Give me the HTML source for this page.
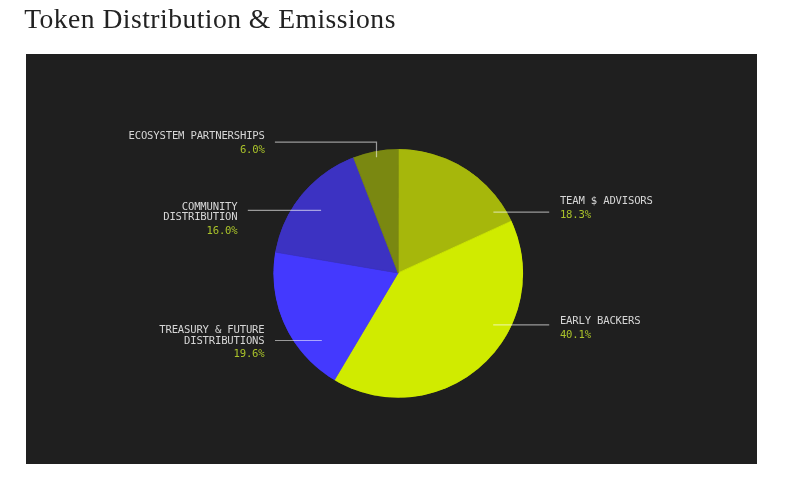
<!DOCTYPE html>
<html>
<head>
<meta charset="utf-8">
<style>
html,body{margin:0;padding:0;background:#fff;width:785px;height:477px;overflow:hidden;}
.title{font-family:"Liberation Serif",serif;font-size:27.6px;letter-spacing:0.47px;fill:#222;}
.chart{position:absolute;left:26px;top:54px;width:731px;height:410px;background:#1f1f1f;}
svg{position:absolute;left:0;top:0;will-change:transform;}
.lb{font-family:"DejaVu Sans Mono",monospace;font-size:10.6px;letter-spacing:-0.19px;fill:#d6d6d6;}
.pc{font-family:"DejaVu Sans Mono",monospace;font-size:10.6px;letter-spacing:-0.19px;fill:#a9c22a;}
</style>
</head>
<body>
<div class="chart"></div>
<svg width="785" height="477" viewBox="0 0 785 477">
  <text class="title" x="24.2" y="27.6">Token Distribution &amp; Emissions</text>
  <clipPath id="pc"><ellipse cx="398.25" cy="273.4" rx="124.9" ry="124.4"/></clipPath>
  <g id="pie" clip-path="url(#pc)">
  <path fill="#a6b70b" stroke="#a6b70b" stroke-width="0.8" d="M398.10 272.90L398.20 149.00A124.9 124.4 0 0 1 511.49 221.02Z"/>
  <path fill="#d0eb00" stroke="#d0eb00" stroke-width="0.8" d="M398.10 272.90L511.49 221.02A124.9 124.4 0 0 1 334.25 380.25Z"/>
  <path fill="#4439fe" stroke="#4439fe" stroke-width="0.8" d="M398.10 272.90L334.25 380.25A124.9 124.4 0 0 1 275.16 252.01Z"/>
  <path fill="#3c32c2" stroke="#3c32c2" stroke-width="0.8" d="M398.10 272.90L275.16 252.01A124.9 124.4 0 0 1 353.44 157.26Z"/>
  <path fill="#7a8811" stroke="#7a8811" stroke-width="0.8" d="M398.10 272.90L353.44 157.26A124.9 124.4 0 0 1 398.20 149.00Z"/>
  </g>
  <g stroke="#fff" stroke-opacity="0.55" stroke-width="1.2" fill="none">
    <path d="M274.9 142.2H376.5V157.3"/>
    <path d="M247.8 210.4H321.1"/>
    <path d="M275 340.5H321.8"/>
  </g>
  <g stroke="#fff" stroke-opacity="0.55" stroke-width="1.2" fill="none">
    <path d="M493.4 212.2H549.2"/>
    <path d="M493.2 324.9H549.2"/>
  </g>
  <text class="lb" transform="translate(264.7 139.1)" text-anchor="end">ECOSYSTEM PARTNERSHIPS</text>
  <text class="pc" transform="translate(264.7 152.6)" text-anchor="end">6.0%</text>
  <text class="lb" transform="translate(237.5 209.9)" text-anchor="end">COMMUNITY</text>
  <text class="lb" transform="translate(237.5 220.0)" text-anchor="end">DISTRIBUTION</text>
  <text class="pc" transform="translate(237.5 234.2)" text-anchor="end">16.0%</text>
  <text class="lb" transform="translate(264.5 333.4)" text-anchor="end">TREASURY &amp; FUTURE</text>
  <text class="lb" transform="translate(264.5 344.1)" text-anchor="end">DISTRIBUTIONS</text>
  <text class="pc" transform="translate(264.5 357.3)" text-anchor="end">19.6%</text>
  <text class="lb" transform="translate(559.9 203.6)">TEAM $ ADVISORS</text>
  <text class="pc" transform="translate(559.9 218.1)">18.3%</text>
  <text class="lb" transform="translate(559.9 323.6)">EARLY BACKERS</text>
  <text class="pc" transform="translate(559.9 338.3)">40.1%</text>
</svg>
</body>
</html>
